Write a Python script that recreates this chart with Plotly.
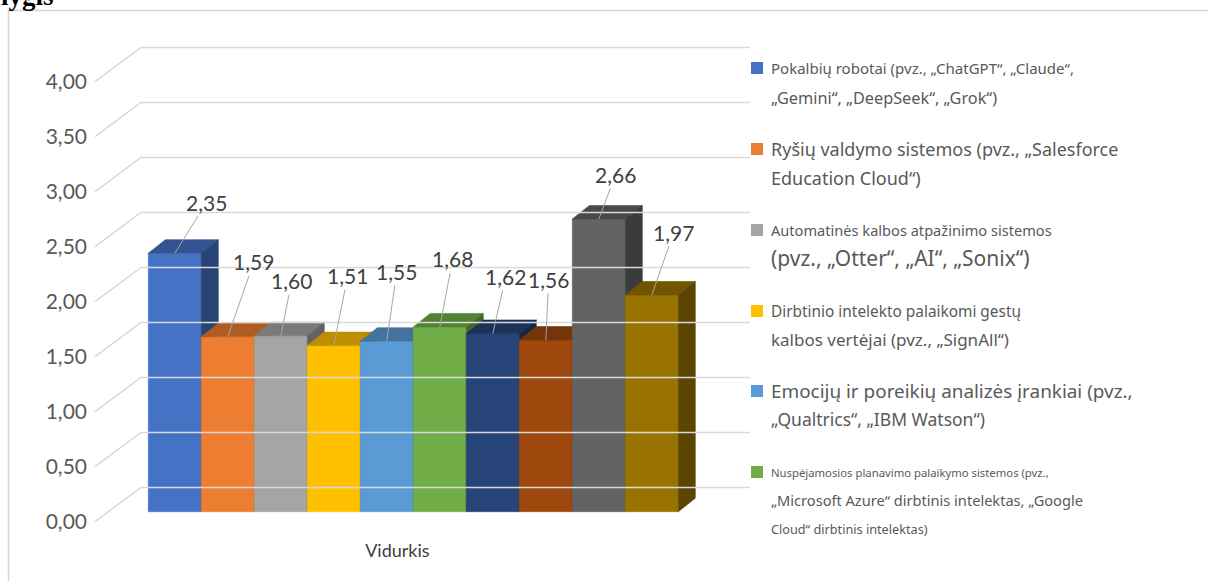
import plotly.graph_objects as go

# ---------------- data ----------------
category = "Vidurkis"
values = [2.35, 1.59, 1.60, 1.51, 1.55, 1.68, 1.62, 1.56, 2.66, 1.97]
y_ticks = [0.0, 0.5, 1.0, 1.5, 2.0, 2.5, 3.0, 3.5, 4.0]
legend_lines = [
    ["Pokalbių robotai (pvz., „ChatGPT“, „Claude“,", "„Gemini“, „DeepSeek“, „Grok“)"],
    ["Ryšių valdymo sistemos (pvz., „Salesforce", "Education Cloud“)"],
    ["Automatinės kalbos atpažinimo sistemos", "(pvz., „Otter“, „AI“, „Sonix“)"],
    ["Dirbtinio intelekto palaikomi gestų", "kalbos vertėjai (pvz., „SignAll“)"],
    ["Emocijų ir poreikių analizės įrankiai (pvz.,", "„Qualtrics“, „IBM Watson“)"],
    ["Nuspėjamosios planavimo palaikymo sistemos (pvz.,",
     "„Microsoft Azure“ dirbtinis intelektas, „Google",
     "Cloud“ dirbtinis intelektas)"],
]

# ---------------- style ----------------
front_colors = ["#4472C4", "#ED7D31", "#A5A5A5", "#FFC000", "#5B9BD5",
                "#70AD47", "#264478", "#9E480E", "#636363", "#997300"]
label_offsets = [(32, -51), (26, -75), (11, -55), (14, -70), (10, -70),
                 (13, -68), (13, -57), (3, -61), (17, -45), (22, -63)]
legend_styles = [  # (marker y px, [(line y px, font size), ...])
    (68, [(68, 15), (98, 16.3)]),
    (149, [(149, 18), (178, 18)]),
    (230, [(230, 14.6), (258, 21)]),
    (311, [(311, 15.4), (339, 17)]),
    (391, [(391, 18.9), (419, 17.5)]),
    (472, [(472, 11.3), (500, 14.6), (529, 12.7)]),
]


def shade(c, f):
    c = c.lstrip("#")
    r, g, b = (int(c[i:i + 2], 16) for i in (0, 2, 4))
    return "#%02X%02X%02X" % (int(r * f), int(g * f), int(b * f))


W, H = 1208, 581
L, R, T, B = 88, 448, 20, 43
PW, PH = W - L - R, H - T - B
U_PX, V_PX = 53.0, 110.0          # px per bar-unit, px per value-unit
X0, Y0 = 148.3, 511.7             # pixel of (u=0, v=0) in the bar plane
xr = [(L - X0) / U_PX, (L + PW - X0) / U_PX]
yr = [(Y0 - (T + PH)) / V_PX, (Y0 - T) / V_PX]
FRONT_SHIFT = 10.0 / V_PX          # floor front edge below bar plane
yr2 = [yr[0] + FRONT_SHIFT, yr[1] + FRONT_SHIFT]

DX, DY = 17 / U_PX, 13.5 / V_PX   # bar depth
WALL_FRONT_U = (95 - X0) / U_PX
WALL_BACK_U = (141 - X0) / U_PX
WALL_END_U = (750 - X0) / U_PX
WALL_DY = 34.3 / V_PX


def px(x):
    return (x - L) / PW


def py(y):
    return 1 - (y - T) / PH


fig = go.Figure()

# gridlines (back wall + left wall diagonals), on the tick axis
gx, gy = [], []
for v in y_ticks:
    gx += [WALL_FRONT_U, WALL_BACK_U, WALL_END_U, None]
    gy += [v, v + WALL_DY, v + WALL_DY, None]
fig.add_trace(go.Scatter(x=gx, y=gy, yaxis="y2", mode="lines",
                         line=dict(color="#D9D9D9", width=1.5),
                         hoverinfo="skip", showlegend=False))

# 3D bars, painted left to right
for i, v in enumerate(values):
    c = front_colors[i]
    faces = [
        ([i, i + 1, i + 1, i, i], [0, 0, v, v, 0], c),
        ([i, i + 1, i + 1 + DX, i + DX, i], [v, v, v + DY, v + DY, v], shade(c, 0.74)),
        ([i + 1, i + 1 + DX, i + 1 + DX, i + 1, i + 1], [0, DY, v + DY, v, 0], shade(c, 0.6)),
    ]
    for fx, fy, col in faces:
        fig.add_trace(go.Scatter(x=fx, y=fy, mode="lines", fill="toself",
                                 fillcolor=col, line=dict(color=col, width=0.6),
                                 hoverinfo="skip", showlegend=False))

annotations = []
for i, v in enumerate(values):
    ax, ay = label_offsets[i]
    annotations.append(dict(
        x=i + 0.5, y=v, xref="x", yref="y", text=f"{v:.2f}".replace(".", ","),
        showarrow=True, arrowhead=0, arrowwidth=1, arrowcolor="#A6A6A6",
        ax=ax, ay=ay, standoff=0,
        font=dict(family="Lato", size=21, color="#404040")))

# legend (custom, as in the source image)
shapes = []
for k, lines in enumerate(legend_lines):
    my, styles = legend_styles[k]
    shapes.append(dict(type="rect", xref="paper", yref="paper",
                       x0=px(751), x1=px(763), y0=py(my + 6), y1=py(my - 6),
                       fillcolor=front_colors[k], line=dict(width=0)))
    for text, (ly, fs) in zip(lines, styles):
        annotations.append(dict(
            x=px(769), y=py(ly), xref="paper", yref="paper", text=text,
            showarrow=False, xanchor="left", yanchor="middle",
            font=dict(family="Noto Sans", size=fs, color="#595959")))

# frame and clipped caption at top
shapes.append(dict(type="rect", xref="paper", yref="paper",
                   x0=px(8.5), x1=px(1220), y0=py(600), y1=py(10.5),
                   line=dict(color="#D4D4D4", width=1.5), layer="below"))
annotations.append(dict(x=px(-1), y=py(13), xref="paper", yref="paper",
                        text="<b>lygis</b>", showarrow=False,
                        xanchor="left", yanchor="bottom",
                        font=dict(family="Liberation Serif", size=27, color="#000000")))

fig.update_layout(
    width=W, height=H, margin=dict(l=L, r=R, t=T, b=B, pad=0),
    paper_bgcolor="white", plot_bgcolor="white",
    separators=", ",
    xaxis=dict(range=xr, showgrid=False, zeroline=False, showline=False,
               tickvals=[len(values) / 2 - 0.3], ticktext=[category], ticks="",
               tickfont=dict(family="Lato", size=18, color="#404040")),
    yaxis=dict(range=yr, visible=False),
    yaxis2=dict(range=yr2, overlaying="y", side="left", anchor="x",
                tickvals=y_ticks, tickformat=".2f", showgrid=False,
                zeroline=False, showline=False, ticks="",
                tickfont=dict(family="Lato", size=21, color="#595959")),
    annotations=annotations, shapes=shapes, showlegend=False,
)

fig.write_html("out.html", config={"displayModeBar": False},
               post_script="document.body.style.margin='0';document.body.style.overflow='hidden';")
